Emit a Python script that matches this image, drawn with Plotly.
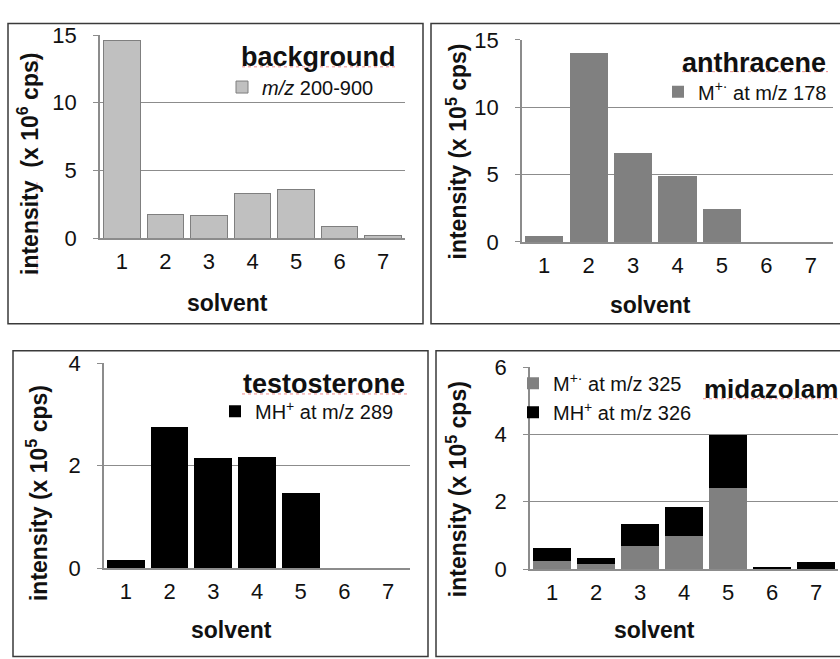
import plotly.graph_objects as go

W, H = 840, 659

# --- data -------------------------------------------------------------
solvents = [1, 2, 3, 4, 5, 6, 7]
solvent_labels = ["1", "2", "3", "4", "5", "6", "7"]

background_total = [14.62, 1.73, 1.68, 3.32, 3.60, 0.83, 0.17]       # x 10^6 cps
anthracene_m = [0.47, 14.0, 6.6, 4.93, 2.47, 0.0, 0.0]               # x 10^5 cps
testosterone_mh = [0.15, 2.76, 2.14, 2.17, 1.46, 0.0, 0.0]           # x 10^5 cps
midazolam_m = [0.23, 0.16, 0.68, 0.99, 2.40, 0.02, 0.0]              # x 10^5 cps
midazolam_mh = [0.38, 0.17, 0.65, 0.84, 1.58, 0.05, 0.21]            # x 10^5 cps

ticks_bg = [0, 5, 10, 15]
ticks_an = [0, 5, 10, 15]
ticks_te = [0, 2, 4]
ticks_mi = [0, 2, 4, 6]

FONT = "Liberation Sans, Arial, sans-serif"
GRID = "#8c8c8c"
SPELL = "#ee8a8a"


def px(x):
    return x / W


def py(y):
    return 1 - y / H


fig = go.Figure()

# --- traces -----------------------------------------------------------
fig.add_trace(go.Bar(
    x=solvents, y=background_total, name="<i>m/z</i> 200-900",
    marker=dict(color="#c0c0c0", line=dict(color="#7f7f7f", width=1)),
    width=0.84, xaxis="x", yaxis="y", legend="legend"))

fig.add_trace(go.Bar(
    x=solvents, y=anthracene_m, name="M<sup>+·</sup> at m/z 178",
    marker=dict(color="#808080", line=dict(width=0)),
    width=0.86, xaxis="x2", yaxis="y2", legend="legend2"))

fig.add_trace(go.Bar(
    x=solvents, y=testosterone_mh, name="MH<sup>+</sup> at m/z 289",
    marker=dict(color="#000000", line=dict(width=0)),
    width=0.86, xaxis="x3", yaxis="y3", legend="legend3"))

fig.add_trace(go.Bar(
    x=solvents, y=midazolam_m, name="M<sup>+·</sup> at m/z 325",
    marker=dict(color="#808080", line=dict(width=0)),
    width=0.87, xaxis="x4", yaxis="y4", legend="legend4"))
fig.add_trace(go.Bar(
    x=solvents, y=midazolam_mh, name="MH<sup>+</sup> at m/z 326",
    marker=dict(color="#000000", line=dict(width=0)),
    width=0.87, xaxis="x4", yaxis="y4", legend="legend4"))

# --- axes -------------------------------------------------------------
def xax(x0, x1, anchor):
    return dict(domain=[px(x0), px(x1)], anchor=anchor, range=[0.5, 7.5],
                tickmode="array", tickvals=solvents, ticktext=solvent_labels,
                showgrid=False, zeroline=False, showline=True,
                linecolor=GRID, linewidth=2, ticks="", ticklabelstandoff=3,
                tickfont=dict(family=FONT, size=22, color="#111"),
                fixedrange=True)


def yax(y_zero, y_top, top_val, tickvals, anchor):
    return dict(domain=[py(y_zero), py(y_top)], anchor=anchor,
                range=[0, top_val], tickmode="array", tickvals=tickvals,
                showgrid=True, gridcolor=GRID, gridwidth=1,
                zeroline=False, showline=True, linecolor=GRID, linewidth=1.5,
                ticks="outside", ticklen=5, tickcolor=GRID,
                ticklabelstandoff=12,
                tickfont=dict(family=FONT, size=22, color="#111"),
                fixedrange=True)


fig.update_layout(
    xaxis=xax(100, 405, "y"),
    yaxis=yax(235, 24, 15, ticks_bg, "x"),
    xaxis2=xax(522, 833, "y2"),
    yaxis2=yax(239, 29, 15, ticks_an, "x2"),
    xaxis3=xax(104, 410, "y3"),
    yaxis3=yax(578, 365, 4, ticks_te, "x3"),
    xaxis4=xax(530, 838, "y4"),
    yaxis4=yax(579, 369, 6, ticks_mi, "x4"),
)

# --- legends ----------------------------------------------------------
def leg(x_left, y_mid):
    return dict(x=px(x_left), y=py(y_mid), xanchor="left", yanchor="middle",
                bgcolor="rgba(0,0,0,0)", borderwidth=0,
                font=dict(family=FONT, size=20, color="#111"),
                itemclick=False, itemdoubleclick=False, tracegroupgap=0)


fig.update_layout(
    showlegend=True,
    legend=leg(222, 78),
    legend2=leg(658, 83),
    legend3=leg(215, 415),
    legend4=dict(leg(513, 401), traceorder="normal"),
)

# --- panel titles and axis titles ---------------------------------------
annotations = []


def text(x, y, s, size, bold=False, angle=0, xanchor="center"):
    annotations.append(dict(
        x=px(x), y=py(y), xref="paper", yref="paper", text=s,
        showarrow=False, textangle=angle, xanchor=xanchor, yanchor="middle",
        font=dict(family=FONT, size=size, color="#111",
                  weight="bold" if bold else "normal")))


text(398, 47, "background", 27, True, xanchor="right")
text(828, 53, "anthracene", 27, True, xanchor="right")
text(407, 387, "testosterone", 27, True, xanchor="right")
text(702, 392, "midazolam", 26, True, xanchor="left")

text(228, 302, "solvent", 23, True)
text(650, 305, "solvent", 23, True)
text(231, 642, "solvent", 23, True)
text(654, 642, "solvent", 23, True)

text(28, 158, "intensity&nbsp; (x 10<sup>6</sup> cps)", 23, True, angle=-90)
text(457, 145, "intensity (x 10<sup>5</sup> cps)", 23, True, angle=-90)
text(37, 500, "intensity (x 10<sup>5</sup> cps)", 23, True, angle=-90)
text(457, 496, "intensity (x 10<sup>5</sup> cps)", 23, True, angle=-90)

fig.update_layout(annotations=annotations)

# --- panel frames and spell-check underlines ---------------------------
shapes = []
for x0, y0, x1, y1 in [(8, 12, 423, 324), (431, 12, 850, 324),
                       (13, 352, 428, 670), (436, 352, 850, 670)]:
    shapes.append(dict(type="rect", xref="paper", yref="paper",
                       x0=px(x0), x1=px(x1), y0=py(y0), y1=py(y1),
                       line=dict(color="#3a3a3a", width=1.5),
                       fillcolor="rgba(0,0,0,0)", layer="above"))

for x0, y0, x1, y1 in [(242, 57, 398, 57), (682, 62, 828, 62),
                       (242, 397, 407, 397), (703, 402, 838, 402),
                       (37, 177, 37, 273), (37, 43, 37, 90)]:
    shapes.append(dict(type="line", xref="paper", yref="paper",
                       x0=px(x0), x1=px(x1), y0=py(y0), y1=py(y1),
                       line=dict(color=SPELL, width=1, dash="dot"),
                       layer="above"))
fig.update_layout(shapes=shapes)

fig.update_layout(
    width=W, height=H, margin=dict(l=0, r=0, t=0, b=0),
    paper_bgcolor="white", plot_bgcolor="white",
    barmode="stack", bargap=0.14,
    font=dict(family=FONT, color="#111"),
)

fig.write_html("out.html", config={"displayModeBar": False})
